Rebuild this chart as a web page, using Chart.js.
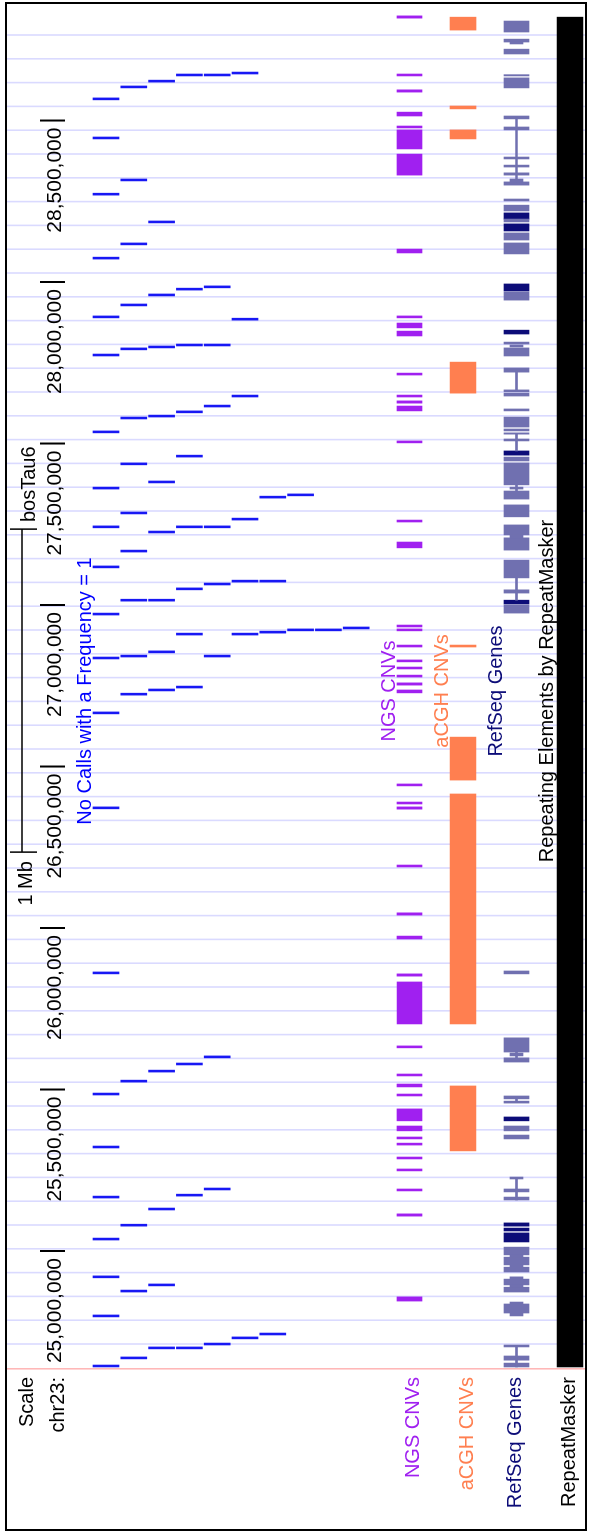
<!DOCTYPE html>
<html>
<head>
<meta charset="utf-8">
<script src="https://cdn.jsdelivr.net/npm/chart.js@4.4.1/dist/chart.umd.min.js"></script>
<style>
  html, body { margin: 0; padding: 0; background: #fff; width: 590px; height: 1537px; overflow: hidden; }
  /* the browser image is laid out horizontally and turned a quarter turn */
  #wrap { position: absolute; left: 0; top: 0; width: 1537px; height: 590px;
          transform-origin: 0 0; transform: translate(0, 1537px) rotate(-90deg); }
  canvas { display: block; }
</style>
</head>
<body>
<div id="wrap"><canvas id="browser" width="1537" height="590"></canvas></div>
<script>
// ---- view: bosTau6 chr23 ----
const assembly = 'bosTau6';
const chromLabel = 'chr23:';
const viewStart = 24637800;
const viewEnd = 28829800;

// base position ruler
const positionTicks = [25000000, 25500000, 26000000, 26500000, 27000000, 27500000, 28000000, 28500000];
const positionTickLabels = ['25,000,000', '25,500,000', '26,000,000', '26,500,000', '27,000,000', '27,500,000', '28,000,000', '28,500,000'];
const scaleBarSpan = [26235000, 27235000];
const scaleBarLabel = '1 Mb';

// "No Calls with a Frequency = 1" track, packed rows of [start, end]
const callsRow0 = [[28564000,28570000],[28443000,28449000],[28269000,28275000],[28071000,28077000],[27889000,27895000],[27771000,27777000],[27533000,27539000],[27359000,27365000],[27239000,27245000],[27115000,27121000],[26969000,26975000],[26833000,26839000],[26663000,26669000],[26369000,26375000],[25858000,25864000],[25483000,25489000],[25319000,25325000],[25164000,25170000],[25034000,25040000],[24917000,24923000],[24796000,24802000],[24641000,24647000]];
const callsRow1 = [[28601000,28607000],[28313000,28319000],[28115000,28121000],[27926000,27932000],[27790000,27796000],[27576000,27582000],[27434000,27440000],[27282000,27288000],[27164000,27170000],[27012000,27018000],[26839000,26845000],[26721000,26727000],[25523000,25529000],[25077000,25083000],[24873000,24879000],[24666000,24672000]];
const callsRow2 = [[28619000,28625000],[28183000,28189000],[27957000,27963000],[27796000,27802000],[27582000,27588000],[27378000,27384000],[27223000,27229000],[27012000,27018000],[26852000,26858000],[26734000,26740000],[25554000,25560000],[25127000,25133000],[24892000,24898000],[24697000,24703000]];
const callsRow3 = [[28638000,28644000],[27975000,27981000],[27802000,27808000],[27595000,27601000],[27458000,27464000],[27239000,27245000],[27047000,27053000],[26907000,26913000],[26743000,26749000],[25576000,25582000],[25170000,25176000],[24697000,24703000]];
const callsRow4 = [[28638000,28644000],[27982000,27988000],[27802000,27808000],[27613000,27619000],[27239000,27245000],[27062000,27068000],[26839000,26845000],[25598000,25604000],[25189000,25195000],[24709000,24715000]];
const callsRow5 = [[28644000,28650000],[27882000,27888000],[27644000,27650000],[27263000,27269000],[27071000,27077000],[26907000,26913000],[24728000,24734000]];
const callsRow6 = [[27331000,27337000],[27071000,27077000],[26913000,26919000],[24740000,24746000]];
const callsRow7 = [[27338000,27344000],[26920000,26926000]];
const callsRow8 = [[26920000,26926000]];
const callsRow9 = [[26926000,26932000]];
const callRows = [callsRow0, callsRow1, callsRow2, callsRow3, callsRow4, callsRow5, callsRow6, callsRow7, callsRow8, callsRow9];

// NGS CNVs
const ngsCnvs = [[28817000,28824000],[28638000,28644000],[28588000,28595000],[28514000,28526000],[28477000,28483000],[28412000,28471000],[28331000,28396000],[28090000,28102000],[27889000,27895000],[27858000,27873000],[27833000,27848000],[27712000,27718000],[27644000,27650000],[27625000,27632000],[27601000,27616000],[27502000,27508000],[27257000,27263000],[27177000,27195000],[26932000,26938000],[26920000,26926000],[26870000,26876000],[26824000,26830000],[26802000,26808000],[26777000,26783000],[26752000,26759000],[26728000,26737000],[26440000,26446000],[26384000,26390000],[26368000,26375000],[26189000,26195000],[26040000,26047000],[25966000,25975000],[25851000,25858000],[25703000,25833000],[25629000,25635000],[25542000,25548000],[25508000,25517000],[25480000,25486000],[25403000,25440000],[25372000,25387000],[25347000,25353000],[25328000,25334000],[25285000,25291000],[25248000,25254000],[25186000,25192000],[25108000,25115000],[24845000,24858000]];

// aCGH CNVs
const acghCnvs = [[28780000,28820000],[28536000,28545000],[28443000,28471000],[27656000,27752000],[26870000,26876000],[26458000,26591000],[25703000,26415000],[25310000,25511000]];

// RefSeq genes: coding exons, reviewed exons, UTRs and introns
const refSeqExons = [[28774000,28808000],[28743000,28752000],[28706000,28721000],[28638000,28642000],[28601000,28632000],[28505000,28514000],[28471000,28480000],[28381000,28387000],[28356000,28362000],[28331000,28338000],[28300000,28310000],[28251000,28257000],[28220000,28238000],[28186000,28195000],[28130000,28152000],[28087000,28121000],[27944000,27969000],[27808000,27814000],[27771000,27796000],[27721000,27734000],[27660000,27666000],[27647000,27656000],[27601000,27607000],[27551000,27582000],[27539000,27545000],[27529000,27533000],[27508000,27514000],[27446000,27458000],[27372000,27440000],[27328000,27353000],[27273000,27310000],[27217000,27248000],[27170000,27208000],[27084000,27139000],[27037000,27047000],[26975000,27000000],[25858000,25867000],[25616000,25660000],[25585000,25598000],[25471000,25480000],[25458000,25464000],[25372000,25387000],[25347000,25359000],[25183000,25192000],[25158000,25167000],[24988000,25012000],[24957000,24981000],[24935000,24950000],[24895000,24913000],[24873000,24888000],[24808000,24836000],[24703000,24709000],[24662000,24675000],[24641000,24653000]];
const refSeqReviewedExons = [[28195000,28214000],[28158000,28180000],[27972000,27994000],[27839000,27851000],[27464000,27477000],[27003000,27015000],[25403000,25415000],[25077000,25087000],[25062000,25071000],[25028000,25056000]];
const refSeqUtrs = [[28737000,28743000],[28310000,28319000],[27799000,27805000],[27359000,27365000],[27208000,27217000],[25604000,25613000],[25223000,25229000],[24981000,24988000],[24950000,24957000],[24913000,24920000],[24888000,24895000],[24836000,24842000],[24799000,24808000]];
const refSeqIntrons = [[28310000,28508000],[27666000,27721000],[27477000,27529000],[27353000,27372000],[27015000,27084000],[25598000,25616000],[25464000,25471000],[25158000,25226000],[24641000,24703000]];

// RepeatMasker (dense)
const repeatMasker = [[24641000,28820000]];

// track names
const freqTrackLabel = 'No Calls with a Frequency = 1';
const trackShortLabels = ['NGS CNVs', 'aCGH CNVs', 'RefSeq Genes', 'RepeatMasker'];
const trackLongLabels = ['NGS CNVs', 'aCGH CNVs', 'RefSeq Genes', 'Repeating Elements by RepeatMasker'];

// ---- layout (lane units: one packed row of the call track = 1) ----
const LANE = {
  min: -3.561, max: 17.230,
  scaleBar: -3.022, scaleCapA: -3.453, scaleCapB: -2.482, scaleText: -2.662, asmText: -2.554,
  tickA: -2.374, tickB: -1.475, tickText: -1.619,
  sideScale: -2.626, sideChrom: -1.511,
  freqText: -0.540,
  ngs: 10.917, ngsText: 10.396, ngsSide: 11.259,
  acgh: 12.842, acghText: 12.302, acghSide: 13.201,
  ref: 14.766, refText: 14.245, refSide: 14.928,
  rm: 16.691, rmText: 16.079, rmSide: 16.871
};
const GUIDE_FIRST = 24712100;
const GUIDE_STEP = 73685;

const COLORS = {
  calls: 'rgb(24,24,244)', ngs: 'rgb(160,32,240)', acgh: 'rgb(255,127,80)',
  refseq: 'rgb(112,112,176)', refseqReviewed: 'rgb(12,12,120)', repeat: '#000',
  guide: 'rgb(218,218,255)', base: 'rgb(255,180,180)'
};
const FONT = '"Liberation Sans", Arial, Helvetica, sans-serif';

const spans = (list, lane) => list.map(([s, e]) => ({ y: lane, x: [s, e] }));
const barSet = (label, data, color, thickness) => ({
  label, data, backgroundColor: color, borderWidth: 0, grouped: false,
  barThickness: thickness, maxBarThickness: thickness
});

const datasets = [
  barSet('calls', callRows.flatMap((row, i) => spans(row, i)), COLORS.calls, 26),
  barSet('ngs', spans(ngsCnvs, LANE.ngs), COLORS.ngs, 25),
  barSet('acgh', spans(acghCnvs, LANE.acgh), COLORS.acgh, 26),
  barSet('introns', spans(refSeqIntrons, LANE.ref), COLORS.refseq, 2),
  barSet('utr', spans(refSeqUtrs, LANE.ref), COLORS.refseq, 13),
  barSet('exons', spans(refSeqExons, LANE.ref), COLORS.refseq, 25),
  barSet('reviewed', spans(refSeqReviewedExons, LANE.ref), COLORS.refseqReviewed, 25),
  barSet('rmsk', spans(repeatMasker, LANE.rm), COLORS.repeat, 26)
];

// draws a label; "stretch" widens the glyphs along the reading direction
function text(ctx, str, u, v, align, color, size, stretch = 1) {
  ctx.save();
  ctx.font = size + 'px ' + FONT;
  ctx.fillStyle = color;
  ctx.textAlign = align;
  ctx.textBaseline = 'alphabetic';
  ctx.translate(u, v);
  ctx.scale(stretch, 1);
  ctx.fillText(str, 0, 0);
  ctx.restore();
}

const browserDecor = {
  id: 'browserDecor',
  beforeDatasetsDraw(chart) {
    const { ctx, chartArea: a, scales: { x } } = chart;
    ctx.save();
    ctx.strokeStyle = COLORS.guide;
    ctx.lineWidth = 1.6;
    for (let p = GUIDE_FIRST; p < viewEnd; p += GUIDE_STEP) {
      const u = x.getPixelForValue(p);
      ctx.beginPath(); ctx.moveTo(u, a.top); ctx.lineTo(u, a.bottom); ctx.stroke();
    }
    ctx.strokeStyle = COLORS.base;
    ctx.lineWidth = 1.5;
    ctx.beginPath(); ctx.moveTo(a.left - 0.8, a.top); ctx.lineTo(a.left - 0.8, a.bottom); ctx.stroke();
    ctx.restore();
  },
  afterDatasetsDraw(chart) {
    const { ctx, chartArea: a, scales: { x, y } } = chart;
    const V = (lane) => y.getPixelForValue(lane);
    const mid = (a.left + a.right) / 2;
    const side = a.left - 9;
    ctx.save();

    // scale bar
    const b0 = x.getPixelForValue(scaleBarSpan[0]);
    const b1 = x.getPixelForValue(scaleBarSpan[1]);
    ctx.strokeStyle = '#000';
    ctx.lineWidth = 1.5;
    ctx.beginPath();
    ctx.moveTo(b0, V(LANE.scaleBar)); ctx.lineTo(b1, V(LANE.scaleBar));
    ctx.moveTo(b0, V(LANE.scaleCapA)); ctx.lineTo(b0, V(LANE.scaleCapB));
    ctx.moveTo(b1, V(LANE.scaleCapA)); ctx.lineTo(b1, V(LANE.scaleCapB));
    ctx.stroke();
    text(ctx, scaleBarLabel, b0 - 9, V(LANE.scaleText), 'right', '#000', 20);
    text(ctx, assembly, b1 + 7, V(LANE.asmText), 'left', '#000', 20);

    // base position ruler
    ctx.lineWidth = 2;
    positionTicks.forEach((p, i) => {
      const u = x.getPixelForValue(p);
      ctx.beginPath(); ctx.moveTo(u, V(LANE.tickA)); ctx.lineTo(u, V(LANE.tickB)); ctx.stroke();
      text(ctx, positionTickLabels[i], u - 7, V(LANE.tickText), 'right', '#000', 20, 1.05);
    });

    // centre labels
    text(ctx, freqTrackLabel, mid, V(LANE.freqText), 'center', 'rgb(0,0,255)', 20);
    text(ctx, trackLongLabels[0], mid, V(LANE.ngsText), 'center', COLORS.ngs, 20);
    text(ctx, trackLongLabels[1], mid, V(LANE.acghText), 'center', COLORS.acgh, 20);
    text(ctx, trackLongLabels[2], mid, V(LANE.refText), 'center', COLORS.refseqReviewed, 20);
    text(ctx, trackLongLabels[3], mid, V(LANE.rmText), 'center', '#000', 20);

    // side labels
    text(ctx, 'Scale', side, V(LANE.sideScale), 'right', '#000', 20);
    text(ctx, chromLabel, side, V(LANE.sideChrom), 'right', '#000', 20);
    text(ctx, trackShortLabels[0], side, V(LANE.ngsSide), 'right', COLORS.ngs, 20);
    text(ctx, trackShortLabels[1], side, V(LANE.acghSide), 'right', COLORS.acgh, 20);
    text(ctx, trackShortLabels[2], side, V(LANE.refSide), 'right', COLORS.refseqReviewed, 20);
    text(ctx, trackShortLabels[3], side, V(LANE.rmSide), 'right', '#000', 20);

    // image frame
    ctx.strokeStyle = '#000';
    ctx.lineWidth = 2;
    ctx.strokeRect(7, 6, 1528 - 1, 580);
    ctx.restore();
  }
};

new Chart(document.getElementById('browser'), {
  type: 'bar',
  data: { datasets },
  options: {
    indexAxis: 'y',
    responsive: false,
    animation: false,
    devicePixelRatio: 1,
    layout: { padding: { left: 169, right: 14, top: 7, bottom: 5 } },
    scales: {
      x: { type: 'linear', min: viewStart, max: viewEnd, display: false, offset: false },
      y: { type: 'linear', min: LANE.min, max: LANE.max, reverse: true, display: false, offset: false,
           ticks: { stepSize: 1 } }
    },
    plugins: { legend: { display: false }, tooltip: { enabled: false } }
  },
  plugins: [browserDecor]
});
</script>
</body>
</html>
